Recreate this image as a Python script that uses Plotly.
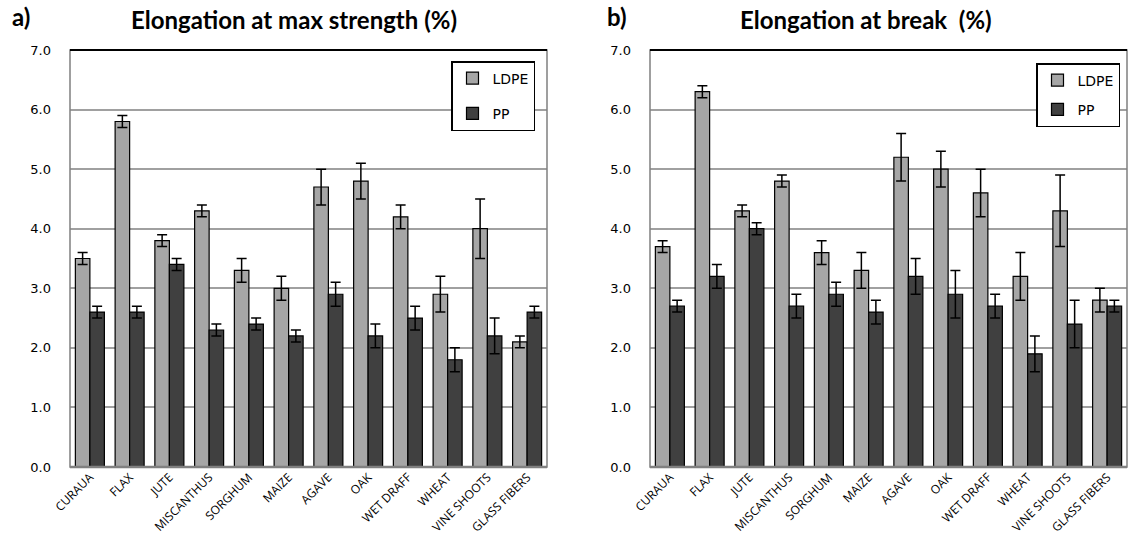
import plotly.graph_objects as go

categories = ["CURAUA", "FLAX", "JUTE", "MISCANTHUS", "SORGHUM", "MAIZE",
              "AGAVE", "OAK", "WET DRAFF", "WHEAT", "VINE SHOOTS", "GLASS FIBERS"]

# a) Elongation at max strength (%)
a_ldpe = [3.5, 5.8, 3.8, 4.3, 3.3, 3.0, 4.7, 4.8, 4.2, 2.9, 4.0, 2.1]
a_ldpe_err = [0.1, 0.1, 0.1, 0.1, 0.2, 0.2, 0.3, 0.3, 0.2, 0.3, 0.5, 0.1]
a_pp = [2.6, 2.6, 3.4, 2.3, 2.4, 2.2, 2.9, 2.2, 2.5, 1.8, 2.2, 2.6]
a_pp_err = [0.1, 0.1, 0.1, 0.1, 0.1, 0.1, 0.2, 0.2, 0.2, 0.2, 0.3, 0.1]

# b) Elongation at break (%)
b_ldpe = [3.7, 6.3, 4.3, 4.8, 3.6, 3.3, 5.2, 5.0, 4.6, 3.2, 4.3, 2.8]
b_ldpe_err = [0.1, 0.1, 0.1, 0.1, 0.2, 0.3, 0.4, 0.3, 0.4, 0.4, 0.6, 0.2]
b_pp = [2.7, 3.2, 4.0, 2.7, 2.9, 2.6, 3.2, 2.9, 2.7, 1.9, 2.4, 2.7]
b_pp_err = [0.1, 0.2, 0.1, 0.2, 0.2, 0.2, 0.3, 0.4, 0.2, 0.3, 0.4, 0.1]

yticks = [0, 1, 2, 3, 4, 5, 6, 7]
ytick_text = ["0.0", "1.0", "2.0", "3.0", "4.0", "5.0", "6.0", "7.0"]

C_LDPE = "#a6a6a6"
C_PP = "#404040"

W, H = 1129, 554
def px(x):
    return x / W
def py(y):
    return 1 - y / H

fig = go.Figure()

def add_bar(name, vals, errs, color, xa, ya, legend, group):
    fig.add_trace(go.Bar(
        x=categories, y=vals, name=name,
        marker=dict(color=color, line=dict(color="#000000", width=1.2)),
        error_y=dict(type="data", array=errs, visible=True,
                     color="#000000", thickness=1.5, width=5),
        xaxis=xa, yaxis=ya, legend=legend, legendgroup=group,
    ))

add_bar("LDPE", a_ldpe, a_ldpe_err, C_LDPE, "x", "y", "legend", "a1")
add_bar("PP", a_pp, a_pp_err, C_PP, "x", "y", "legend", "a2")
add_bar("LDPE", b_ldpe, b_ldpe_err, C_LDPE, "x2", "y2", "legend2", "b1")
add_bar("PP", b_pp, b_pp_err, C_PP, "x2", "y2", "legend2", "b2")

L1, R1 = 70, 547
L2, R2 = 650, 1127
TOP, BOT = 50, 467

xcommon = dict(tickangle=-45, tickfont=dict(family="Open Sans", size=12, color="#000000"),
               showgrid=False, ticks="", showline=False, zeroline=False,
               automargin=False)
ycommon = dict(range=[0, 7], tickvals=yticks, ticktext=ytick_text,
               tickfont=dict(family="DejaVu Sans", size=13, color="#000000"),
               showgrid=True, gridcolor="#a0a0a0", gridwidth=1.5,
               ticks="", ticklabelstandoff=18, showline=False, zeroline=False,
               automargin=False)

legend_common = dict(xanchor="left", yanchor="top",
                     bgcolor="white", bordercolor="#000000", borderwidth=1.5,
                     font=dict(family="DejaVu Sans", size=14, color="#000000"),
                     itemwidth=30)

fig.update_layout(
    width=W, height=H, autosize=False,
    margin=dict(l=0, r=0, t=0, b=0, pad=0, autoexpand=False),
    paper_bgcolor="white", plot_bgcolor="white",
    barmode="group", bargap=0.27, bargroupgap=0.0,
    xaxis=dict(domain=[px(L1), px(R1)], anchor="y", **xcommon),
    yaxis=dict(domain=[py(BOT), py(TOP)], anchor="x", **ycommon),
    xaxis2=dict(domain=[px(L2), px(R2)], anchor="y2", **xcommon),
    yaxis2=dict(domain=[py(BOT), py(TOP)], anchor="x2", **ycommon),
    legend=dict(x=px(451), y=py(61), tracegroupgap=14, **legend_common),
    legend2=dict(x=px(1036), y=py(63), tracegroupgap=8, **legend_common),
    showlegend=True,
)

shapes = []
for (l, r) in [(L1, R1), (L2, R2)]:
    shapes.append(dict(type="rect", xref="paper", yref="paper",
                       x0=px(l), x1=px(r), y0=py(BOT), y1=py(TOP),
                       line=dict(color="#808080", width=1.5), layer="above"))
    shapes.append(dict(type="line", xref="paper", yref="paper",
                       x0=px(l), x1=px(r), y0=py(TOP), y1=py(TOP),
                       line=dict(color="#000000", width=2), layer="above"))
    shapes.append(dict(type="line", xref="paper", yref="paper",
                       x0=px(l), x1=px(r), y0=py(BOT), y1=py(BOT),
                       line=dict(color="#808080", width=2.5), layer="above"))
fig.update_layout(shapes=shapes)

title_font = dict(family="Lato", size=24, color="#000000")
annotations = [
    dict(text="<b>a)</b>", x=px(10), y=py(17), xref="paper", yref="paper",
         xanchor="left", yanchor="middle", showarrow=False, font=title_font),
    dict(text="<b>Elongation at max strength (%)</b>", x=px(294), y=py(19),
         xref="paper", yref="paper", xanchor="center", yanchor="middle",
         showarrow=False, font=title_font),
    dict(text="<b>b)</b>", x=px(605), y=py(17), xref="paper", yref="paper",
         xanchor="left", yanchor="middle", showarrow=False, font=title_font),
    dict(text="<b>Elongation at break  (%)</b>", x=px(866), y=py(19),
         xref="paper", yref="paper", xanchor="center", yanchor="middle",
         showarrow=False, font=title_font),
]
fig.update_layout(annotations=annotations)

fig.write_html("out.html", config=dict(responsive=False, displayModeBar=False),
               post_script="document.body.style.margin='0';")
